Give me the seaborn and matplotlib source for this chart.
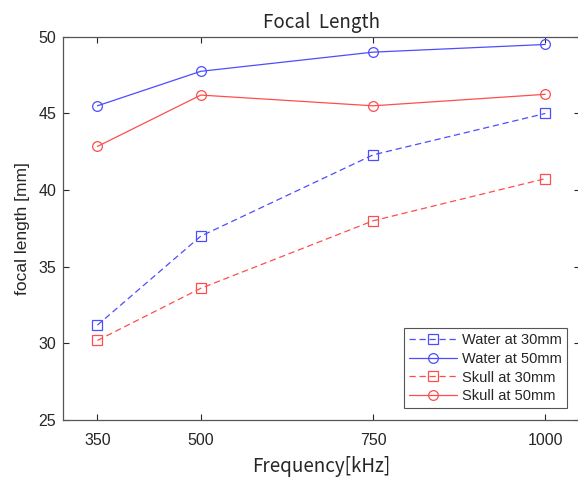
import numpy as np
import pandas as pd
import seaborn as sns
import matplotlib.pyplot as plt

# data
freq_khz = [350, 500, 750, 1000]
water_30 = [31.2, 37.0, 42.3, 45.0]
water_50 = [45.5, 47.75, 49.0, 49.5]
skull_30 = [30.2, 33.6, 38.0, 40.75]
skull_50 = [42.85, 46.2, 45.5, 46.25]
series_names = ["Water at 30mm", "Water at 50mm", "Skull at 30mm", "Skull at 50mm"]

sns.set_theme(style="ticks")
plt.rcParams["font.family"] = ["Liberation Sans", "DejaVu Sans"]

BLUE = "#4d4dff"
RED = "#ff4d4d"
styles = {
    "Water at 30mm": (BLUE, "s", (0, (5, 3))),
    "Water at 50mm": (BLUE, "o", "-"),
    "Skull at 30mm": (RED, "s", (0, (5, 3))),
    "Skull at 50mm": (RED, "o", "-"),
}

rows = []
for name, vals in zip(series_names, [water_30, water_50, skull_30, skull_50]):
    for f, v in zip(freq_khz, vals):
        rows.append({"freq": f, "focal": v, "series": name})
df = pd.DataFrame(rows)

fig = plt.figure(figsize=(5.78, 4.78), dpi=100)
ax = fig.add_axes([0.109, 0.121, 0.894, 0.802])

for name in series_names:
    color, marker, ls = styles[name]
    sub = df[df["series"] == name]
    sns.lineplot(data=sub, x="freq", y="focal", ax=ax, color=color, marker=marker,
                 markersize=7 if marker == "o" else 6.5, markerfacecolor="none",
                 markeredgecolor=color, markeredgewidth=0.9, linewidth=0.9,
                 linestyle=ls, label=name)

ax.set_xlim(300, 1050)
ax.set_ylim(25, 50)
ax.set_xticks(freq_khz)
ax.set_yticks([25, 30, 35, 40, 45, 50])
ax.tick_params(direction="in", top=True, right=True, length=4, width=0.8,
               labelsize=11.5, colors="#262626")
ax.tick_params(axis="x", pad=9)
ax.tick_params(axis="y", pad=5)
for s in ax.spines.values():
    s.set_visible(True)
    s.set_color("#555555")
    s.set_linewidth(0.9)

ax.set_title("Focal  Length", fontsize=13.5, family=["Noto Sans CJK KR", "DejaVu Sans"], pad=6)
ax.set_xlabel("Frequency[kHz]", fontsize=13.5, family=["Noto Sans CJK KR", "DejaVu Sans"], labelpad=6)
ax.set_ylabel("focal length [mm]", fontsize=12.5, labelpad=6)

leg = ax.legend(loc="lower right", bbox_to_anchor=(0.975, 0.031), borderaxespad=0,
                fontsize=10.5, frameon=True, fancybox=False, edgecolor="#555555",
                framealpha=1, handlelength=3.3, borderpad=0.35, labelspacing=0.32,
                handletextpad=0.3)
leg.get_frame().set_linewidth(0.8)

fig.savefig("out.png", dpi=100)
